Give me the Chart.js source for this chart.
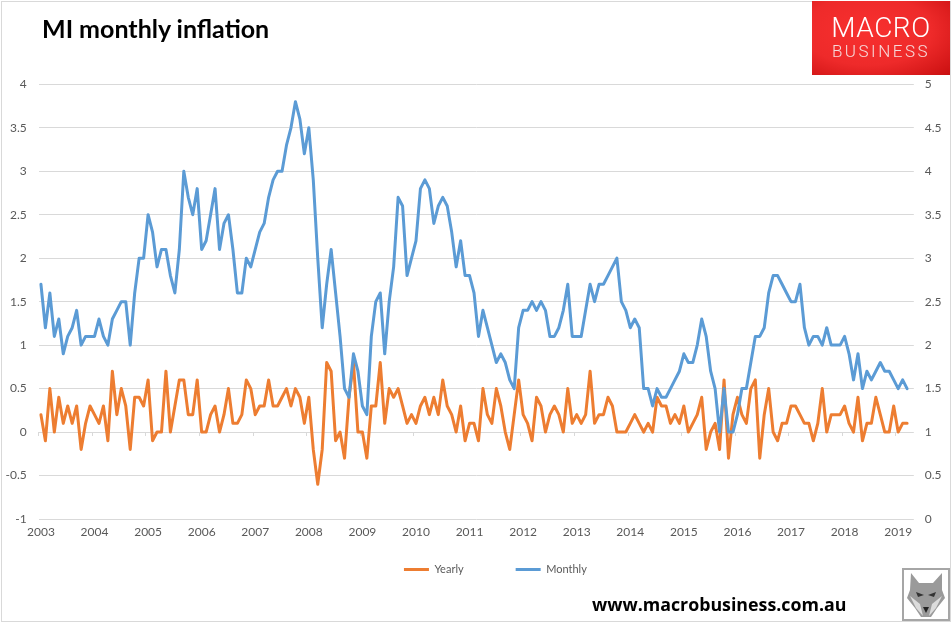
<!DOCTYPE html>
<html>
<head>
<meta charset="utf-8">
<title>MI monthly inflation</title>
<script src="https://cdn.jsdelivr.net/npm/chart.js@4"></script>
<style>
  html, body { margin: 0; padding: 0; background: #fff; }
  #wrap { position: relative; width: 952px; height: 623px; overflow: hidden; }
  #chart { position: absolute; left: 0; top: 0; }
  #frame { position: absolute; left: 1px; top: 1px; width: 948px; height: 619px; border: 1px solid #d9d9d9; }
  #title { position: absolute; left: 42px; top: 13px; font: bold 25px Lato, sans-serif; color: #000; white-space: nowrap; }
  #logo { position: absolute; left: 812px; top: 1px; width: 138px; height: 74px; color: #fff; text-align: center;
          background: radial-gradient(ellipse at 40% 40%, #f8302f 0%, #ee2a2a 55%, #c90f10 100%); }
  #logo .a { position: absolute; left: 0; width: 100%; top: 8px; font: 300 28px/38px Roboto, sans-serif; letter-spacing: 0.5px; }
  #logo .b { position: absolute; left: 0; width: 100%; top: 40px; font: 300 17px/20px Roboto, sans-serif; letter-spacing: 2.5px; color: #f6dada; }
  #url { position: absolute; left: 592px; top: 592px; font: bold 17.8px "Open Sans", sans-serif; color: #000; white-space: nowrap; }
  #wolf { position: absolute; left: 902px; top: 568px; width: 44px; height: 49px; border: 2px solid #a6a6a6; background: #fff; }
</style>
</head>
<body>
<div id="wrap">
  <canvas id="chart" width="952" height="623"></canvas>
  <div id="frame"></div>
  <div id="title">MI monthly inflation</div>
  <div id="logo"><div class="a">MACRO</div><div class="b">BUSINESS</div></div>
  <div id="url">www.macrobusiness.com.au</div>
  <svg id="wolf" viewBox="0 0 44 49">
    <polygon points="7,3 15,13 29,13 38,3 38,20 41,28 33,38 27,47 17,47 11,38 3,28 6,20" fill="#9a9a9a"/>
    <polygon points="12,22 20,25 14,27" fill="#333"/>
    <polygon points="32,22 24,25 30,27" fill="#333"/>
    <polygon points="6,26 16,34 19,46 12,38" fill="#dcdcdc"/>
    <polygon points="38,26 28,34 25,46 32,38" fill="#dcdcdc"/>
    <polygon points="19,37 25,37 22,43" fill="#222"/>
  </svg>
</div>

<script>
const years = [2003, 2004, 2005, 2006, 2007, 2008, 2009, 2010, 2011, 2012, 2013, 2014, 2015, 2016, 2017, 2018, 2019];
const months = ["Jan", "Feb", "Mar", "Apr", "May", "Jun", "Jul", "Aug", "Sep", "Oct", "Nov", "Dec"];

// orange line, read against the left axis
const yearly = [
  0.2, -0.1, 0.5, 0, 0.4, 0.1, 0.3, 0.1, 0.3, -0.2, 0.1, 0.3,
  0.2, 0.1, 0.3, -0.1, 0.7, 0.2, 0.5, 0.3, -0.2, 0.4, 0.4, 0.3,
  0.6, -0.1, 0, 0, 0.7, 0, 0.3, 0.6, 0.6, 0.2, 0.2, 0.6,
  0, 0, 0.2, 0.3, 0, 0.2, 0.5, 0.1, 0.1, 0.2, 0.6, 0.5,
  0.2, 0.3, 0.3, 0.6, 0.3, 0.3, 0.4, 0.5, 0.3, 0.5, 0.4, 0.1,
  0.4, -0.2, -0.6, -0.2, 0.8, 0.7, -0.1, 0, -0.3, 0.4, 0.8, 0,
  0, -0.3, 0.3, 0.3, 0.8, 0.1, 0.5, 0.4, 0.5, 0.3, 0.1, 0.2,
  0.1, 0.3, 0.4, 0.2, 0.4, 0.2, 0.6, 0.3, 0.2, 0, 0.3, -0.1,
  0.1, 0.1, -0.1, 0.5, 0.2, 0.1, 0.5, 0.3, 0, -0.2, 0.2, 0.6,
  0.2, 0.1, -0.1, 0.4, 0.3, 0, 0.2, 0.3, 0.2, 0, 0.5, 0.1,
  0.2, 0.1, 0.2, 0.7, 0.1, 0.2, 0.2, 0.4, 0.3, 0, 0, 0,
  0.1, 0.2, 0.1, 0, 0.1, 0, 0.4, 0.3, 0.3, 0.1, 0.2, 0.1,
  0.3, 0, 0.1, 0.2, 0.4, -0.2, 0, 0.1, -0.2, 0.6, -0.3, 0.2,
  0.4, 0.2, 0.1, 0.5, 0.6, -0.3, 0.2, 0.5, 0, -0.1, 0.1, 0.1,
  0.3, 0.3, 0.2, 0.1, 0.1, -0.1, 0.1, 0.5, 0, 0.2, 0.2, 0.2,
  0.3, 0.1, 0, 0.4, -0.1, 0.1, 0.1, 0.4, 0.2, 0, 0, 0.3,
  0, 0.1, 0.1
];

// blue line, read against the right axis
const monthly = [
  2.7, 2.2, 2.6, 2.1, 2.3, 1.9, 2.1, 2.2, 2.4, 2.0, 2.1, 2.1,
  2.1, 2.3, 2.1, 2.0, 2.3, 2.4, 2.5, 2.5, 2.0, 2.6, 3.0, 3.0,
  3.5, 3.3, 2.9, 3.1, 3.1, 2.8, 2.6, 3.1, 4.0, 3.7, 3.5, 3.8,
  3.1, 3.2, 3.5, 3.8, 3.1, 3.4, 3.5, 3.1, 2.6, 2.6, 3.0, 2.9,
  3.1, 3.3, 3.4, 3.7, 3.9, 4.0, 4.0, 4.3, 4.5, 4.8, 4.6, 4.2,
  4.5, 3.9, 3.0, 2.2, 2.7, 3.1, 2.6, 2.1, 1.5, 1.4, 1.9, 1.7,
  1.3, 1.2, 2.1, 2.5, 2.6, 1.9, 2.5, 2.9, 3.7, 3.6, 2.8, 3.0,
  3.2, 3.8, 3.9, 3.8, 3.4, 3.6, 3.7, 3.6, 3.3, 2.9, 3.2, 2.8,
  2.8, 2.6, 2.1, 2.4, 2.2, 2.0, 1.8, 1.9, 1.8, 1.6, 1.5, 2.2,
  2.4, 2.4, 2.5, 2.4, 2.5, 2.4, 2.1, 2.1, 2.2, 2.4, 2.7, 2.1,
  2.1, 2.1, 2.4, 2.7, 2.5, 2.7, 2.7, 2.8, 2.9, 3.0, 2.5, 2.4,
  2.2, 2.3, 2.2, 1.5, 1.5, 1.3, 1.5, 1.4, 1.4, 1.5, 1.6, 1.7,
  1.9, 1.8, 1.8, 2.0, 2.3, 2.1, 1.7, 1.5, 1.0, 1.5, 1.0, 1.0,
  1.2, 1.5, 1.5, 1.8, 2.1, 2.1, 2.2, 2.6, 2.8, 2.8, 2.7, 2.6,
  2.5, 2.5, 2.7, 2.2, 2.0, 2.1, 2.1, 2.0, 2.2, 2.0, 2.0, 2.0,
  2.1, 1.9, 1.6, 1.9, 1.5, 1.7, 1.6, 1.7, 1.8, 1.7, 1.7, 1.6,
  1.5, 1.6, 1.5
];

// axis runs one empty slot past the last reading, to April 2019
const categories = [];
years.forEach(function (y) {
  months.forEach(function (m) {
    categories.push(m + " " + y);
  });
});
categories.length = 196;

const ORANGE = "#ed7d31";
const BLUE = "#5b9bd5";
const GRID = "#d9d9d9";
const LABEL = "#595959";
const FONT = { family: "Lato, sans-serif", size: 12 };

function yearTick(value, index) {
  return index % 12 === 0 ? years[index / 12] : "";
}

function plainTick(value) {
  return String(value);
}

// the legend sits off centre and closer to the plot than its box would
const legendShift = {
  id: "legendShift",
  afterLayout: function (chart) {
    chart.legend.left += 19.4;
    chart.legend.right += 19.4;
    chart.legend.top = 512;
    chart.legend.bottom = 576;
  },
};

new Chart(document.getElementById("chart").getContext("2d"), {
  type: "line",
  data: {
    labels: categories,
    datasets: [
      { label: "Yearly", data: yearly, yAxisID: "y", order: 2, borderWidth: 3, borderColor: ORANGE, backgroundColor: ORANGE },
      { label: "Monthly", data: monthly, yAxisID: "y2", order: 1, borderWidth: 3, borderColor: BLUE, backgroundColor: BLUE },
    ],
  },
  options: {
    responsive: false,
    animation: false,
    layout: { padding: { left: 0, right: 0, top: 84.3, bottom: 6 } },
    elements: {
      line: { tension: 0, borderCapStyle: "round", borderJoinStyle: "round" },
      point: { radius: 0 },
    },
    plugins: {
      tooltip: { enabled: false },
      legend: {
        position: "bottom",
        labels: {
          usePointStyle: true,
          pointStyle: "line",
          pointStyleWidth: 25,
          padding: 52,
          color: LABEL,
          font: { family: "Lato, sans-serif", size: 11 },
          sort: function (a, b) { return a.datasetIndex - b.datasetIndex; },
        },
      },
    },
    scales: {
      x: {
        type: "category",
        offset: true,
        grid: { display: false, drawTicks: false },
        border: { display: false },
        ticks: { autoSkip: false, maxRotation: 0, minRotation: 0, padding: 6, color: LABEL, font: FONT, callback: yearTick },
        afterFit: function (scale) { scale.height = 25; },
      },
      x2: {
        type: "category",
        axis: "x",
        position: { y: 0 },
        offset: true,
        border: { display: false },
        grid: {
          offset: true,
          drawOnChartArea: false,
          tickLength: 4,
          tickWidth: 1,
          tickColor: function (ctx) { return ctx.index % 12 === 0 ? GRID : "rgba(0,0,0,0)"; },
        },
        ticks: { display: false, autoSkip: false },
      },
      y: {
        position: "left",
        min: -1,
        max: 4,
        grid: { color: GRID, drawTicks: false },
        border: { display: false },
        ticks: { stepSize: 0.5, padding: 12, color: LABEL, font: FONT, callback: plainTick },
        afterFit: function (scale) { scale.width = 38.7; },
      },
      y2: {
        position: "right",
        min: 0,
        max: 5,
        grid: { display: false, drawTicks: false },
        border: { display: false },
        ticks: { stepSize: 0.5, padding: 11, color: LABEL, font: FONT, callback: plainTick },
        afterFit: function (scale) { scale.width = 38.2; },
      },
    },
  },
  plugins: [legendShift],
});
</script>
</body>
</html>
